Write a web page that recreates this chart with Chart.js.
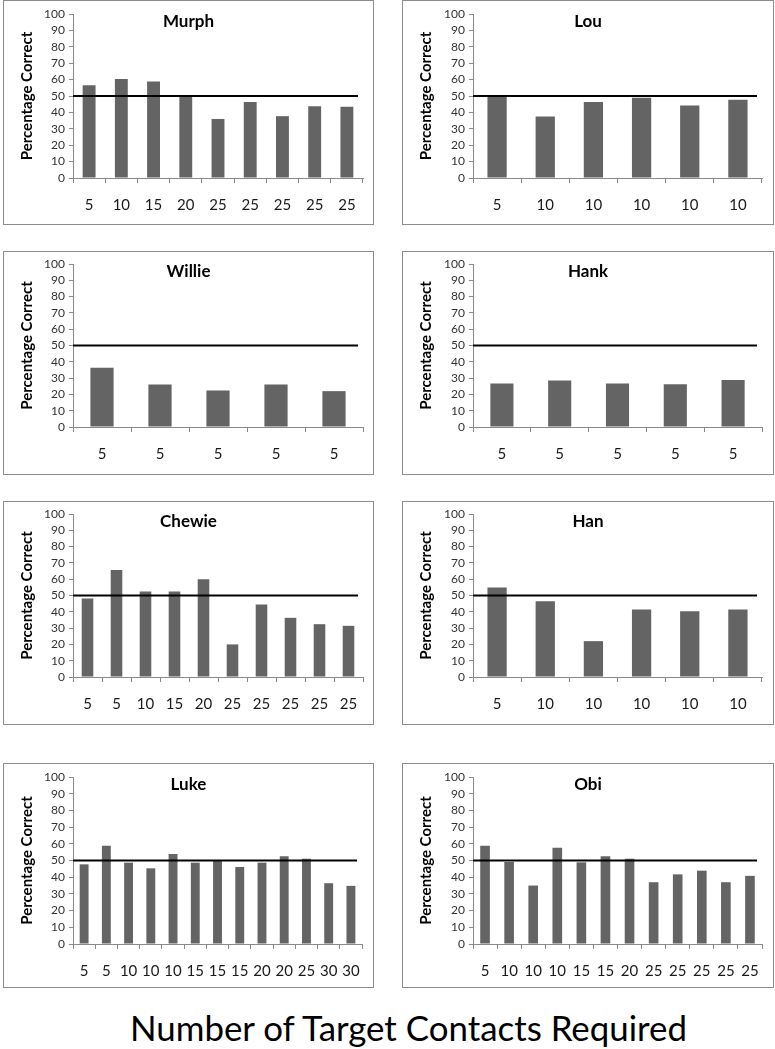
<!DOCTYPE html>
<html>
<head>
<meta charset="utf-8">
<script src="https://cdn.jsdelivr.net/npm/chart.js@4.4.0/dist/chart.umd.min.js"></script>
<style>
  body { margin: 0; background: #fff; width: 775px; height: 1049px; position: relative; overflow: hidden; font-family: Lato, sans-serif; }
  .panel { position: absolute; border: 1px solid #8c8c8c; box-sizing: border-box; background: #fff; }
  .panel canvas { position: absolute; left: 0; top: 0; }
  #xtitle { position: absolute; left: 130px; top: 1010px; font-size: 35px; line-height: 1; white-space: nowrap; transform-origin: 0 0; color: #000; }
  #xtitle span { display: inline-block; }
</style>
</head>
<body>
<div id="xtitle"><span>Number of Target Contacts Required</span></div>
<script>
// data
const chanceLevel = 50;

const murphLabels = ['5', '10', '15', '20', '25', '25', '25', '25', '25'];
const murphValues = [56.6, 60.3, 58.9, 50.5, 36.0, 46.4, 37.7, 43.8, 43.4];

const louLabels = ['5', '10', '10', '10', '10', '10'];
const louValues = [50.6, 37.5, 46.4, 48.9, 44.2, 47.7];

const willieLabels = ['5', '5', '5', '5', '5'];
const willieValues = [36.3, 26.1, 22.4, 26.1, 22.0];

const hankLabels = ['5', '5', '5', '5', '5'];
const hankValues = [26.7, 28.6, 26.7, 26.3, 28.8];

const chewieLabels = ['5', '5', '10', '15', '20', '25', '25', '25', '25', '25'];
const chewieValues = [48.2, 65.7, 52.4, 52.4, 60.0, 20.0, 44.5, 36.3, 32.4, 31.4];

const hanLabels = ['5', '10', '10', '10', '10', '10'];
const hanValues = [54.9, 46.5, 22.0, 41.4, 40.4, 41.4];

const lukeLabels = ['5', '5', '10', '10', '10', '15', '15', '15', '20', '20', '25', '30', '30'];
const lukeValues = [47.7, 58.8, 48.7, 45.3, 53.9, 48.7, 49.9, 46.1, 48.7, 52.5, 51.1, 36.4, 34.8];

const obiLabels = ['5', '10', '10', '10', '15', '15', '20', '25', '25', '25', '25', '25'];
const obiValues = [58.8, 49.1, 35.0, 57.7, 48.9, 52.5, 51.1, 37.0, 41.7, 43.9, 37.0, 40.8];

// page layout: columns [boxLeft, boxWidth, yAxisX], rows [boxTop, boxHeight, plotTop, plotBottom]
const cols = [[3, 371, 73], [402, 372, 473]];
const rows = [[0, 225, 14, 178], [251, 224, 264, 427], [501, 224, 514, 677], [763, 225, 777, 944]];

const panels = [
    { name: 'Murph', labels: murphLabels, values: murphValues, col: 0, row: 0 },
    { name: 'Lou', labels: louLabels, values: louValues, col: 1, row: 0 },
    { name: 'Willie', labels: willieLabels, values: willieValues, col: 0, row: 1 },
    { name: 'Hank', labels: hankLabels, values: hankValues, col: 1, row: 1 },
    { name: 'Chewie', labels: chewieLabels, values: chewieValues, col: 0, row: 2 },
    { name: 'Han', labels: hanLabels, values: hanValues, col: 1, row: 2 },
    { name: 'Luke', labels: lukeLabels, values: lukeValues, col: 0, row: 3 },
    { name: 'Obi', labels: obiLabels, values: obiValues, col: 1, row: 3 }
];

Chart.defaults.font.family = 'Lato, sans-serif';
Chart.defaults.color = '#404040';

const axisGrey = '#8a8a8a';

// black reference line at 50%
const chanceLine = {
    id: 'chanceLine',
    afterDatasetsDraw(chart) {
        const { ctx, chartArea, scales } = chart;
        const y = scales.y.getPixelForValue(chanceLevel);
        ctx.save();
        ctx.strokeStyle = '#000';
        ctx.lineWidth = 2;
        ctx.beginPath();
        ctx.moveTo(chartArea.left, y);
        ctx.lineTo(chartArea.right - 5, y);
        ctx.stroke();
        ctx.restore();
    }
};

// subject name drawn over the top of the plot, centred on the box
const panelName = {
    id: 'panelName',
    afterDraw(chart, args, opts) {
        const ctx = chart.ctx;
        ctx.save();
        ctx.font = 'bold 17px Lato, sans-serif';
        ctx.fillStyle = '#000';
        ctx.textAlign = 'center';
        ctx.textBaseline = 'middle';
        ctx.fillText(opts.text, chart.width / 2, chart.chartArea.top + 8);
        ctx.restore();
    }
};

for (let p of panels) {
    const [boxX, boxW, axisAbs] = cols[p.col];
    const [boxY, boxH, plotTopAbs, plotBottomAbs] = rows[p.row];

    const div = document.createElement('div');
    div.className = 'panel';
    div.style.left = boxX + 'px';
    div.style.top = boxY + 'px';
    div.style.width = boxW + 'px';
    div.style.height = boxH + 'px';
    const canvas = document.createElement('canvas');
    const cw = boxW - 2, ch = boxH - 2;
    canvas.width = cw;
    canvas.height = ch;
    canvas.style.width = cw + 'px';
    canvas.style.height = ch + 'px';
    div.appendChild(canvas);
    document.body.appendChild(div);

    const padLeft = 14;
    const axisX = axisAbs - boxX - 1;
    const plotTop = plotTopAbs - boxY - 1;
    const plotBottom = plotBottomAbs - boxY - 1;
    const plotRight = 359;

    new Chart(canvas.getContext('2d'), {
        type: 'bar',
        data: {
            labels: p.labels,
            datasets: [{
                data: p.values,
                backgroundColor: '#646464',
                borderWidth: 0,
                barPercentage: 0.4,
                categoryPercentage: 1.0
            }]
        },
        options: {
            responsive: false,
            animation: false,
            layout: { padding: { left: padLeft, right: cw - plotRight, top: plotTop, bottom: 0 } },
            plugins: {
                legend: { display: false },
                tooltip: { enabled: false },
                panelName: { text: p.name }
            },
            scales: {
                x: {
                    afterFit: scale => { scale.height = ch - plotBottom; },
                    grid: { drawOnChartArea: false, tickLength: 5, color: axisGrey, offset: true },
                    border: { color: axisGrey },
                    ticks: { autoSkip: false, maxRotation: 0, padding: 13, color: '#1a1a1a', font: { size: 15 } }
                },
                y: {
                    min: 0,
                    max: 100,
                    afterFit: scale => { scale.width = axisX - padLeft; },
                    grid: { drawOnChartArea: false, tickLength: 4, color: axisGrey },
                    border: { color: axisGrey },
                    ticks: { stepSize: 10, autoSkip: false, padding: 4, color: '#333', font: { size: 12 } },
                    title: {
                        display: true,
                        text: 'Percentage Correct',
                        color: '#000',
                        padding: 0,
                        font: { size: 15, weight: 'bold' }
                    }
                }
            }
        },
        plugins: [chanceLine, panelName]
    });
}

// squeeze the big axis caption to the narrow width it has in the figure
const capSpan = document.querySelector('#xtitle span');
const capWidth = capSpan.getBoundingClientRect().width;
document.querySelector('#xtitle').style.transform = `scaleX(${557 / capWidth})`;
</script>
</body>
</html>
